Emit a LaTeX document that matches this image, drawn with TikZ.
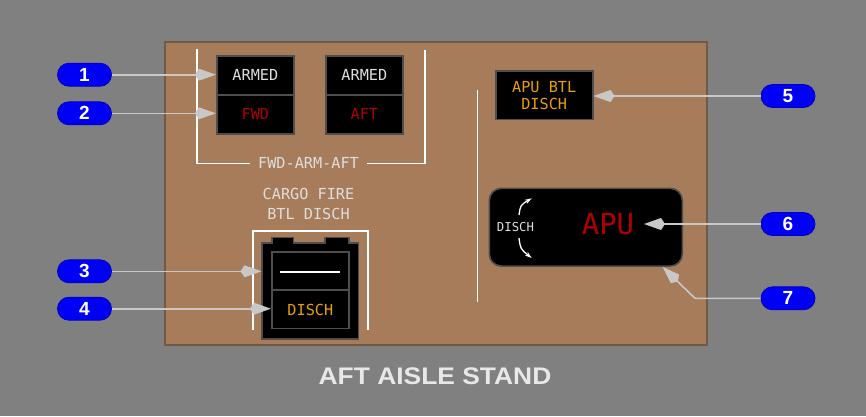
\documentclass[tikz,border=0pt]{standalone}
\usepackage{fontspec}
\setmainfont{Liberation Sans}
\newfontfamily\mono{DejaVu Sans Mono}
\usetikzlibrary{arrows.meta}
\definecolor{bggray}{RGB}{128,128,128}
\definecolor{panel}{RGB}{166,124,90}
\definecolor{panelborder}{RGB}{112,90,70}
\definecolor{boxborder}{RGB}{78,78,78}
\definecolor{lamporange}{RGB}{232,160,0}
\definecolor{lampred}{RGB}{176,0,0}
\definecolor{lampwhite}{RGB}{222,222,222}
\definecolor{leadergray}{RGB}{200,200,200}
\definecolor{pillblue}{RGB}{0,0,245}
\definecolor{pillborder}{RGB}{0,0,190}
\definecolor{titlecol}{RGB}{232,232,232}
\tikzset{
  lampbox/.style={draw=boxborder, line width=1.6pt, fill=black, inner sep=0pt},
  monotext/.style={font=\mono\fontsize{15.2}{17}\selectfont, inner sep=0pt},
  pill/.style={draw=pillborder, line width=0.8pt, fill=pillblue, rounded corners=11.5pt,
    minimum width=54pt, minimum height=23pt, inner sep=0pt, text=white,
    font=\bfseries\fontsize{19}{19}\selectfont},
  leader/.style={draw=leadergray, line width=1.6pt,
    -{Kite[length=21pt, width=12pt, inset=4pt, fill=leadergray]}},
  bracket/.style={draw=white, line width=1.6pt},
  dischArrow/.style={draw=white, line width=1.3pt, -{Stealth[length=7pt, width=4.5pt]}}
}
\begin{document}
\begin{tikzpicture}[x=1pt, y=-1pt]
\useasboundingbox (0,0) rectangle (866,416);
\fill[bggray] (0,0) rectangle (866,416);
% panel
\draw[fill=panel, draw=panelborder, line width=1.5pt] (165,42) rectangle (707,345);

% FWD-ARM-AFT bracket
\node[monotext, text=lampwhite] (fwdarmaft) at (308.5,163) {FWD-ARM-AFT};
\draw[bracket] (197,49) -- (197,163.5) -- ([xshift=-8pt]fwdarmaft.west |- 0,163.5);
\draw[bracket] ([xshift=8pt]fwdarmaft.east |- 0,163.5) -- (425,163.5) -- (425,50);

% FWD lamp
\node[lampbox, minimum width=77.3pt, minimum height=78pt] (fwd) at (255.35,95) {};
\draw[boxborder, line width=1.6pt] (fwd.west) -- (fwd.east);
\node[monotext, text=lampwhite] (fwdarmed) at (255.35,75) {ARMED};
\node[monotext, text=lampred] (fwdlabel) at (255.35,114) {FWD};

% AFT lamp
\node[lampbox, minimum width=77.3pt, minimum height=78pt] (aft) at (364.35,95) {};
\draw[boxborder, line width=1.6pt] (aft.west) -- (aft.east);
\node[monotext, text=lampwhite] (aftarmed) at (364.35,75) {ARMED};
\node[monotext, text=lampred] (aftlabel) at (364.35,114) {AFT};

% Cargo fire
\node[monotext, text=lampwhite] (cargotitle) at (308.5,194) {CARGO FIRE};
\node[monotext, text=lampwhite] (cargotitle2) at (308.5,214) {BTL DISCH};
\draw[bracket] (253,330) -- (253,231) -- (368,231) -- (368,330);
\node[inner sep=0pt, minimum width=96.6pt, minimum height=96.3pt] (housing) at (310,290.85) {};
\draw[fill=black, draw=boxborder, line width=1.6pt]
  (261.7,339) -- (261.7,242.7) -- (271.7,242.7) -- (271.7,237.3) -- (293.3,237.3)
  -- (293.3,242.7) -- (325,242.7) -- (325,237.3) -- (349,237.3) -- (349,242.7)
  -- (358.3,242.7) -- (358.3,339) -- cycle;
\node[lampbox, minimum width=77.3pt, minimum height=76.6pt] (cargo) at (310.35,290) {};
\draw[boxborder, line width=1.6pt] (cargo.west) -- (cargo.east);
\draw[white, line width=1.6pt] (280,271.7) -- (340,271.7);
\node[monotext, text=lamporange] (cargodisch) at (310.35,309.5) {DISCH};

% APU BTL DISCH lamp
\node[lampbox, minimum width=97pt, minimum height=48.6pt] (apubtl) at (544.2,95) {};
\node[monotext, text=lamporange] (apubtl1) at (544.2,87) {APU BTL};
\node[monotext, text=lamporange] (apubtl2) at (544.2,103.5) {DISCH};

% divider line
\draw[bracket] (477.3,90) -- (477.3,302);

% APU switch
\node[lampbox, rounded corners=12pt, minimum width=193pt, minimum height=77.7pt] (apu) at (585.8,227.2) {};
\node[font=\mono\fontsize{29}{30}\selectfont, text=lampred, inner sep=0pt] (apulabel) at (608,224) {APU};
\node[font=\mono\fontsize{12.3}{14}\selectfont, text=lampwhite, inner sep=0pt] (apudisch) at (515.5,227.5) {DISCH};
\draw[dischArrow] (519,215) .. controls (520.5,205) .. (531.7,198.3);
\draw[dischArrow] (519,238) .. controls (520.5,249) .. (531.7,258);

% title
\node[font=\bfseries\fontsize{24}{26}\selectfont, text=titlecol] (title) at (435,376) {\scalebox{1.1}[1]{AFT AISLE STAND}};

% callouts
\node[pill] (p1) at (84.5,74.7) {1};
\node[pill] (p2) at (84.5,113.3) {2};
\node[pill] (p3) at (84.5,271.3) {3};
\node[pill] (p4) at (84.5,308.7) {4};
\node[pill] (p5) at (788,96) {5};
\node[pill] (p6) at (788,224) {6};
\node[pill] (p7) at (788,298.3) {7};

\coordinate (t6) at (644,224);
\coordinate (bend7) at (695,298.3);
\coordinate (t7) at (662.7,267);

\draw[leader] (p1.east) -- (fwd.west |- p1);
\draw[leader] (p2.east) -- (fwd.west |- p2);
\draw[leader] (p3.east) -- (housing.west |- p3);
\draw[leader] (p4.east) -- (cargo.west |- p4);
\draw[leader] (p5.west) -- (apubtl.east |- p5);
\draw[leader] (p6.west) -- (t6);
\draw[leader] (p7.west) -- (bend7) -- (t7);
\end{tikzpicture}
\end{document}
